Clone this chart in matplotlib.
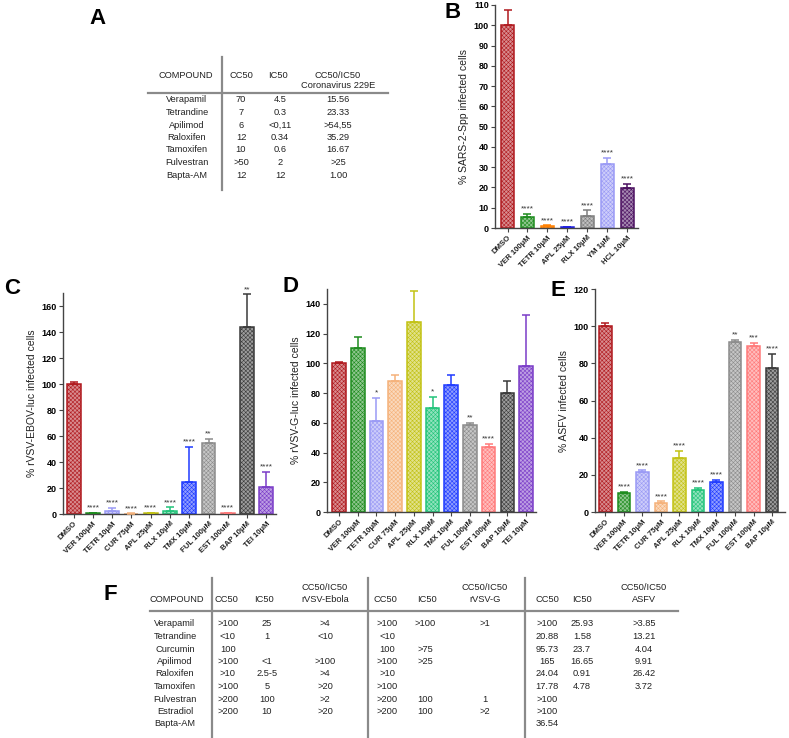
import matplotlib
matplotlib.use("Agg")
import matplotlib.pyplot as plt
from matplotlib.lines import Line2D
from matplotlib.colors import to_rgb

plt.rcParams["font.family"] = ["Liberation Sans", "DejaVu Sans"]
plt.rcParams["hatch.linewidth"] = 0.4

W, H = 789, 738

# ---- data ----
b_labels = ["DMSO", "VER 100\u03bcM", "TETR 10\u03bcM", "APL 25\u03bcM", "RLX 10\u03bcM", "YM 1\u03bcM", "HCL 10\u03bcM"]
b_values = [100, 5.2, 1.0, 0.5, 5.9, 31.8, 19.7]
b_errors = [7.4, 1.8, 0.3, 0.2, 2.8, 2.7, 2.2]
b_stars = ["", "****", "****", "****", "****", "****", "****"]
b_colors = ["#B0191E", "#1E8C1E", "#FF8000", "#2020E0", "#7F7F7F", "#9A9AF5", "#4B1060"]

c_labels = ["DMSO", "VER 100\u03bcM", "TETR 10\u03bcM", "CUR 75\u03bcM", "APL 25\u03bcM", "RLX 10\u03bcM",
            "TMX 10\u03bcM", "FUL 100\u03bcM", "EST 100uM", "BAP 10\u03bcM", "TEI 10\u03bcM"]
c_values = [100, 0.5, 2.5, 0.3, 0.4, 2.5, 25, 55, 0.7, 143.6, 20.7]
c_errors = [1.3, 0.4, 2.1, 0.2, 0.2, 2.6, 26.5, 2.7, 0.3, 25.4, 11.7]
c_stars = ["", "****", "****", "****", "****", "****", "****", "**", "****", "**", "****"]

d_labels = ["DMSO", "VER 100\u03bcM", "TETR 10\u03bcM", "CUR 75\u03bcM", "APL 25\u03bcM", "RLX 10\u03bcM",
            "TMX 10\u03bcM", "FUL 100\u03bcM", "EST 100\u03bcM", "BAP 10\u03bcM", "TEI 10\u03bcM"]
d_values = [100, 110.3, 61.4, 88.1, 127.6, 69.7, 85.2, 58.7, 43.5, 80, 98.5]
d_errors = [1.0, 7.4, 15.1, 4.3, 20.8, 7.7, 7.2, 1.2, 2.2, 7.9, 34.3]
d_stars = ["", "", "*", "", "", "*", "", "**", "****", "", ""]

e_labels = ["DMSO", "VER 100\u03bcM", "TETR 10\u03bcM", "CUR 75\u03bcM", "APL 25\u03bcM", "RLX 10\u03bcM",
            "TMX 10\u03bcM", "FUL 100\u03bcM", "EST 100\u03bcM", "BAP 10\u03bcM"]
e_values = [100, 10.2, 21.4, 4.8, 29.3, 11.7, 16.2, 91.7, 89.2, 77.7]
e_errors = [1.5, 0.6, 1.0, 0.9, 3.7, 1.4, 0.9, 0.9, 1.8, 7.2]
e_stars = ["", "****", "****", "****", "****", "****", "****", "**", "***", "****"]

cde_colors = ["#B0191E", "#1E8C1E", "#9A9AF5", "#F5B27A", "#C2C214", "#22C47A",
              "#1F3BFF", "#8C8C8C", "#FF7A7A", "#3A3A3A", "#7A3CC8"]

a_header = ["COMPOUND", "CC50", "IC50", "CC50/IC50"]
a_compounds = ["Verapamil", "Tetrandine", "Apilimod", "Raloxifen", "Tamoxifen", "Fulvestran", "Bapta-AM"]
a_cc50 = ["70", "7", "6", "12", "10", ">50", "12"]
a_ic50 = ["4.5", "0.3", "<0,11", "0.34", "0.6", "2", "12"]
a_ratio = ["15.56", "23.33", ">54,55", "35.29", "16.67", ">25", "1.00"]

f_compounds = ["Verapamil", "Tetrandine", "Curcumin", "Apilimod", "Raloxifen", "Tamoxifen",
               "Fulvestran", "Estradiol", "Bapta-AM"]
f_ebola_cc50 = [">100", "<10", "100", ">100", ">10", ">100", ">200", ">200", ""]
f_ebola_ic50 = ["25", "1", "", "<1", "2.5-5", "5", "100", "10", ""]
f_ebola_ratio = [">4", "<10", "", ">100", ">4", ">20", ">2", ">20", ""]
f_g_cc50 = [">100", "<10", "100", ">100", ">10", ">100", ">200", ">200", ""]
f_g_ic50 = [">100", "", ">75", ">25", "", "", "100", "100", ""]
f_g_ratio = [">1", "", "", "", "", "", "1", ">2", ""]
f_asfv_cc50 = [">100", "20.88", "95.73", "165", "24.04", "17.78", ">100", ">100", "36.54"]
f_asfv_ic50 = ["25.93", "1.58", "23.7", "16.65", "0.91", "4.78", "", "", ""]
f_asfv_ratio = [">3.85", "13.21", "4.04", "9.91", "26.42", "3.72", "", "", ""]

fig = plt.figure(figsize=(W / 100, H / 100), dpi=100)


def px_axes(l, t, r, b):
    return fig.add_axes([l / W, 1 - b / H, (r - l) / W, (b - t) / H])


def ftext(x, y, s, **kw):
    kw.setdefault("ha", "center")
    kw.setdefault("va", "center")
    kw.setdefault("fontsize", 6.7)
    kw.setdefault("color", "#222222")
    fig.text(x / W, 1 - y / H, s, **kw)


def fline(x0, y0, x1, y1, lw=1.6):
    fig.add_artist(Line2D([x0 / W, x1 / W], [1 - y0 / H, 1 - y1 / H],
                          transform=fig.transFigure, color="#8a8a8a", lw=lw))


def tint(c, f=0.5):
    r, g, b = to_rgb(c)
    return (r + (1 - r) * f, g + (1 - g) * f, b + (1 - b) * f)


def bar_panel(ax, labels, values, errors, stars, colors, width, xlim, ylim, yticks, ylabel):
    x = list(range(len(values)))
    for i in x:
        ax.bar(i, values[i], width=width, facecolor=tint(colors[i], 0.5),
               edgecolor=colors[i], hatch="xxxxxxxx", linewidth=1.1, zorder=2)
        ax.errorbar(i, values[i], yerr=[[0], [errors[i]]], color=colors[i],
                    elinewidth=1.1, capsize=3, capthick=1.1, zorder=3)
        if stars[i]:
            ax.annotate(stars[i], (i, values[i] + errors[i]), xytext=(0, 1),
                        textcoords="offset points", ha="center", va="bottom",
                        fontsize=6, color="#333333")
    ax.set_xlim(*xlim)
    ax.set_ylim(*ylim)
    ax.set_yticks(yticks)
    ax.set_xticks(x)
    ax.set_xticklabels(labels, rotation=45, ha="right", rotation_mode="anchor",
                       fontsize=5.6, fontweight="bold", color="#222222")
    for t in ax.get_yticklabels():
        t.set_fontweight("bold")
        t.set_fontsize(6.5)
    ax.set_ylabel(ylabel, fontsize=7.5, color="#222222", labelpad=3)
    for s in ["top", "right"]:
        ax.spines[s].set_visible(False)
    for s in ["left", "bottom"]:
        ax.spines[s].set_color("#444444")
        ax.spines[s].set_linewidth(1.0)
    ax.tick_params(direction="out", length=3, width=0.8, color="#444444", pad=1.5)


axB = px_axes(495, 5, 638, 228)
bar_panel(axB, b_labels, b_values, b_errors, b_stars, b_colors, 0.65,
          (-0.63, 6.55), (0, 110), range(0, 111, 10), "% SARS-2-Spp infected cells")

axC = px_axes(63, 293, 276, 514)
bar_panel(axC, c_labels, c_values, c_errors, c_stars, cde_colors, 0.72,
          (-0.55, 10.5), (0, 170), range(0, 161, 20), "% rVSV-EBOV-luc infected cells")

axD = px_axes(327, 289, 536, 512)
bar_panel(axD, d_labels, d_values, d_errors, d_stars, cde_colors, 0.73,
          (-0.64, 10.53), (0, 150), range(0, 141, 20), "% rVSV-G-luc infected cells")

axE = px_axes(595, 289, 785, 512)
bar_panel(axE, e_labels, e_values, e_errors, e_stars, cde_colors[:10], 0.69,
          (-0.56, 9.7), (0, 120), range(0, 121, 20), "% ASFV infected cells")

# panel letters
for letter, (lx, ly) in {"A": (97, 18), "B": (453, 12), "C": (12, 288), "D": (291, 287),
                         "E": (558, 290), "F": (110, 594)}.items():
    ftext(lx, ly, letter, fontsize=16, fontweight="bold", color="black")

# ---- table A ----
ftext(186, 75, a_header[0])
ftext(241, 75, a_header[1])
ftext(278, 75, a_header[2])
ftext(338, 75, a_header[3])
ftext(338, 86, "Coronavirus 229E")
fline(148, 92.5, 388, 92.5)
fline(222, 57, 222, 190)
for i in range(len(a_compounds)):
    y = 100 + 12.5 * i
    ftext(187, y, a_compounds[i])
    ftext(241, y, a_cc50[i])
    ftext(280, y, a_ic50[i])
    ftext(338, y, a_ratio[i])

# ---- table F ----
ftext(177, 600, "COMPOUND")
for cx, ix, rx, name in [(226, 264, 325, "rVSV-Ebola"), (385, 427, 485, "rVSV-G"), (547, 582, 644, "ASFV")]:
    ftext(cx, 600, "CC50")
    ftext(ix, 600, "IC50")
    ftext(rx, 587, "CC50/IC50")
    ftext(rx, 600, name)
fline(150, 611, 678, 611)
for vx in [212, 368, 525]:
    fline(vx, 578, vx, 737)
cols = [(228, f_ebola_cc50), (267, f_ebola_ic50), (325, f_ebola_ratio),
        (387, f_g_cc50), (425, f_g_ic50), (485, f_g_ratio),
        (547, f_asfv_cc50), (582, f_asfv_ic50), (644, f_asfv_ratio)]
for i in range(len(f_compounds)):
    y = 624 + 12.5 * i
    ftext(175, y, f_compounds[i])
    for cx, vals in cols:
        if vals[i]:
            ftext(cx, y, vals[i])

fig.savefig("out.png", dpi=100)
